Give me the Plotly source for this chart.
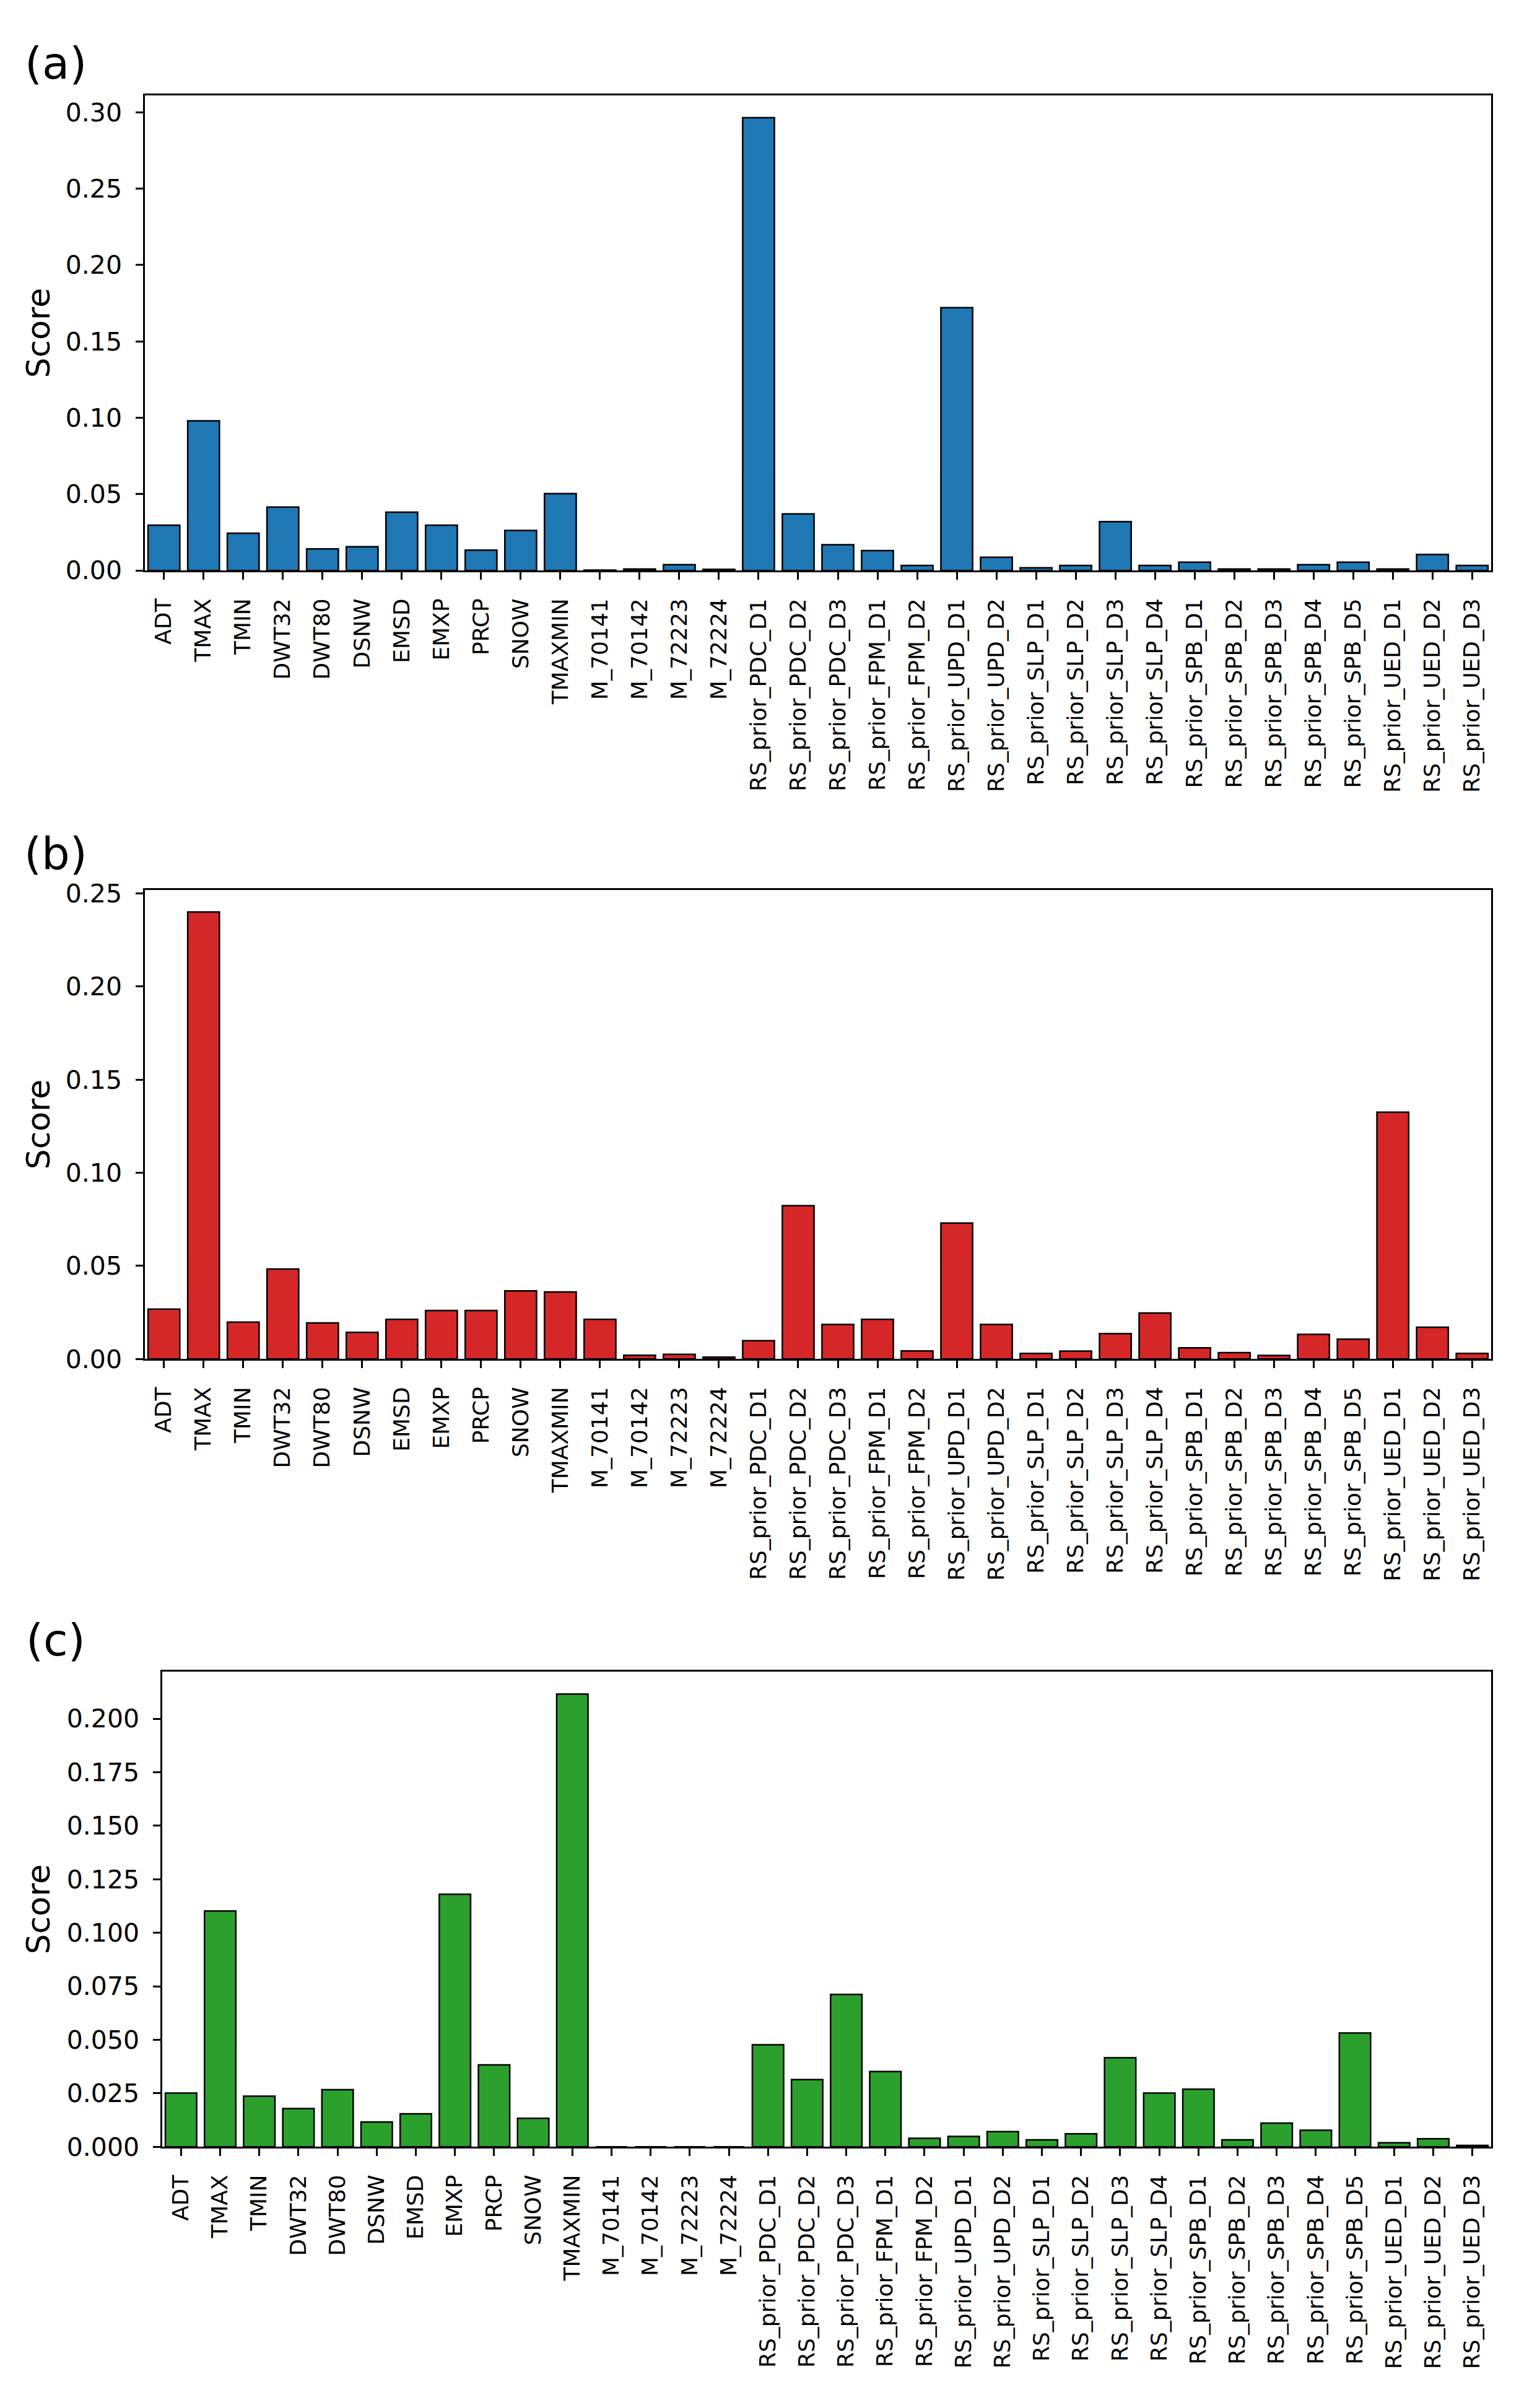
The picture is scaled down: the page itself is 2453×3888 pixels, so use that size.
import plotly.graph_objects as go

# feature names shared by all three panels
features = [
    "ADT", "TMAX", "TMIN", "DWT32", "DWT80", "DSNW", "EMSD", "EMXP", "PRCP", "SNOW",
    "TMAXMIN", "M_70141", "M_70142", "M_72223", "M_72224",
    "RS_prior_PDC_D1", "RS_prior_PDC_D2", "RS_prior_PDC_D3",
    "RS_prior_FPM_D1", "RS_prior_FPM_D2",
    "RS_prior_UPD_D1", "RS_prior_UPD_D2",
    "RS_prior_SLP_D1", "RS_prior_SLP_D2", "RS_prior_SLP_D3", "RS_prior_SLP_D4",
    "RS_prior_SPB_D1", "RS_prior_SPB_D2", "RS_prior_SPB_D3", "RS_prior_SPB_D4", "RS_prior_SPB_D5",
    "RS_prior_UED_D1", "RS_prior_UED_D2", "RS_prior_UED_D3",
]

# scores
score_a = [
    0.0297, 0.0980, 0.0244, 0.0415, 0.0141, 0.0156, 0.0382, 0.0297, 0.0133, 0.0262,
    0.0503, 0.0003, 0.0010, 0.0038, 0.0008,
    0.2964, 0.0371, 0.0169,
    0.0130, 0.0033,
    0.1721, 0.0087,
    0.0018, 0.0033, 0.0320, 0.0033,
    0.0054, 0.0010, 0.0010, 0.0038, 0.0054,
    0.0010, 0.0105, 0.0033,
]
score_b = [
    0.0268, 0.2400, 0.0198, 0.0483, 0.0194, 0.0143, 0.0213, 0.0260, 0.0260, 0.0366,
    0.0360, 0.0213, 0.0020, 0.0025, 0.0010,
    0.0098, 0.0823, 0.0185,
    0.0213, 0.0043,
    0.0730, 0.0185,
    0.0030, 0.0042, 0.0136, 0.0247,
    0.0060, 0.0034, 0.0019, 0.0132, 0.0106,
    0.1325, 0.0170, 0.0030,
]
score_c = [
    0.0251, 0.1102, 0.0237, 0.0179, 0.0267, 0.0116, 0.0154, 0.1180, 0.0383, 0.0133,
    0.2115, 0.0, 0.0, 0.0, 0.0,
    0.0477, 0.0314, 0.0712,
    0.0352, 0.0040,
    0.0049, 0.0071,
    0.0033, 0.0061, 0.0416, 0.0251,
    0.0269, 0.0033, 0.0111, 0.0078, 0.0532,
    0.0019, 0.0038, 0.0007,
]

W, H = 2453, 3888
FONT = "DejaVu Sans"

# panel settings: label, scores, colour, pixel box (top, bottom, left), tick step, format, label centre y
panels = [
    ("(a)", score_a, "#1f77b4", 137, 913, 234, 0.05, ".2f", 85),
    ("(b)", score_b, "#d62728", 1434, 2200, 234, 0.05, ".2f", 1375),
    ("(c)", score_c, "#2ca02c", 2710, 3486, 262, 0.025, ".3f", 2659),
]
right = 2408

fig = go.Figure()
annotations = []

for i, (label, scores, color, top, bottom, left, step, fmt, label_y) in enumerate(panels, start=1):
    sfx = "" if i == 1 else str(i)
    fig.add_trace(go.Bar(
        x=features,
        y=scores,
        xaxis="x" + sfx,
        yaxis="y" + sfx,
        width=0.8,
        marker=dict(color=color, line=dict(color="black", width=2.5)),
        showlegend=False,
    ))

    axis_style = dict(
        showline=True, mirror=True, linecolor="black", linewidth=2.5,
        ticks="outside", ticklen=12, tickwidth=2.5, tickcolor="black",
        showgrid=False, zeroline=False,
    )
    fig.update_layout({
        "xaxis" + sfx: dict(
            axis_style,
            domain=[left / W, right / W],
            anchor="y" + sfx,
            type="category",
            range=[-0.48, len(features) - 1 + 0.48],
            tickangle=-90,
            ticklabelstandoff=16,
            tickfont=dict(family=FONT, size=36, color="black"),
        ),
        "yaxis" + sfx: dict(
            axis_style,
            domain=[1 - bottom / H, 1 - top / H],
            anchor="x" + sfx,
            range=[0, max(scores) * 1.05],
            dtick=step,
            tick0=0,
            tickformat=fmt,
            ticklabelstandoff=14,
            tickfont=dict(family=FONT, size=41, color="black"),
        ),
    })

    # y axis title
    annotations.append(dict(
        text="Score", x=62 / W, y=1 - (top + bottom) / 2 / H,
        xref="paper", yref="paper", showarrow=False, textangle=-90,
        xanchor="center", yanchor="middle",
        font=dict(family=FONT, size=52, color="black"),
    ))
    # panel letter
    annotations.append(dict(
        text=label, x=90 / W, y=1 - label_y / H,
        xref="paper", yref="paper", showarrow=False,
        xanchor="center", yanchor="middle",
        font=dict(family=FONT, size=72, color="black"),
    ))

fig.update_layout(
    width=W,
    height=H,
    margin=dict(l=0, r=0, t=0, b=0),
    plot_bgcolor="white",
    paper_bgcolor="white",
    bargap=0.2,
    annotations=annotations,
)

# page margin off so the figure fills the window exactly; no modebar
fig.write_html(
    "out.html",
    config={"displayModeBar": False},
    post_script="document.body.style.margin = '0';",
)
